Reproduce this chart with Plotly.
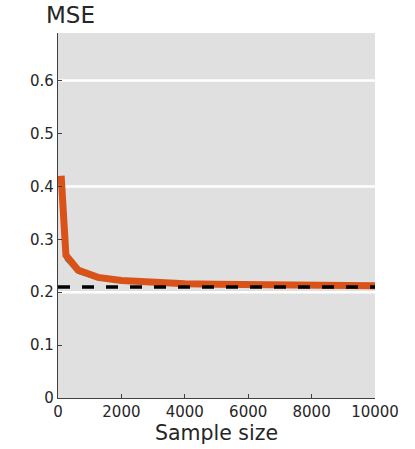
import plotly.graph_objects as go

# Data
sample_size = [100, 250, 630, 1260, 2000, 3000, 4000, 5000, 6000, 7000, 8000, 9000, 10000]
mse_orange = [0.420, 0.270, 0.242, 0.228, 0.222, 0.218, 0.216, 0.215, 0.214, 0.2135, 0.213, 0.2125, 0.212]
mse_blue = [0.400, 0.262, 0.237, 0.225, 0.220, 0.217, 0.2155, 0.2145, 0.2137, 0.2132, 0.2127, 0.2122, 0.2118]
baseline_x = [0, 10000]
baseline_y = [0.21, 0.21]
grid_y = [0.2, 0.4, 0.6]
x_ticks = [0, 2000, 4000, 6000, 8000, 10000]
y_ticks = [0, 0.1, 0.2, 0.3, 0.4, 0.5, 0.6]

FONT = "DejaVu Sans"
TXT = "#262626"

fig = go.Figure()
fig.add_trace(go.Scatter(x=sample_size, y=mse_blue, mode="lines",
                         line=dict(color="#0072BD", width=2.5), showlegend=False))
fig.add_trace(go.Scatter(x=sample_size, y=mse_orange, mode="lines",
                         line=dict(color="#D95319", width=7), showlegend=False))
fig.add_trace(go.Scatter(x=baseline_x, y=baseline_y, mode="lines",
                         line=dict(color="black", width=3.5, dash="12px,12px"), showlegend=False))

for gy in grid_y:
    fig.add_shape(type="line", xref="paper", x0=0, x1=1, yref="y", y0=gy, y1=gy,
                  line=dict(color="white", width=2.5), layer="below")

fig.update_layout(
    width=415, height=449,
    margin=dict(l=58, r=40, t=33, b=51),
    paper_bgcolor="white", plot_bgcolor="#e0e0e0",
    font=dict(family=FONT, color=TXT, size=15),
    xaxis=dict(range=[0, 10000], tickvals=x_ticks, ticktext=[str(v) for v in x_ticks],
               ticks="inside", ticklen=4, tickcolor="#404040", showgrid=False, zeroline=False,
               showline=True, linecolor="#404040", linewidth=1.2,
               tickfont=dict(size=15, family=FONT, color=TXT),
               title=dict(text="Sample size", font=dict(size=20.5, family=FONT, color=TXT), standoff=3)),
    yaxis=dict(range=[0, 0.69], tickvals=y_ticks, ticktext=["0", "0.1", "0.2", "0.3", "0.4", "0.5", "0.6"],
               ticks="inside", ticklen=4, tickcolor="#404040", showgrid=False, zeroline=False,
               showline=True, linecolor="#404040", linewidth=1.2,
               tickfont=dict(size=15, family=FONT, color=TXT)),
    annotations=[dict(text="MSE", xref="paper", yref="paper", x=0.041, y=1, xanchor="center",
                      yanchor="bottom", yshift=3, showarrow=False,
                      font=dict(size=23, family=FONT, color=TXT))],
)

# remove the browser's default 8px body margin so the figure fills the window exactly
fig.write_html("out.html", config={"displayModeBar": False},
               post_script="document.body.style.margin='0px';")
